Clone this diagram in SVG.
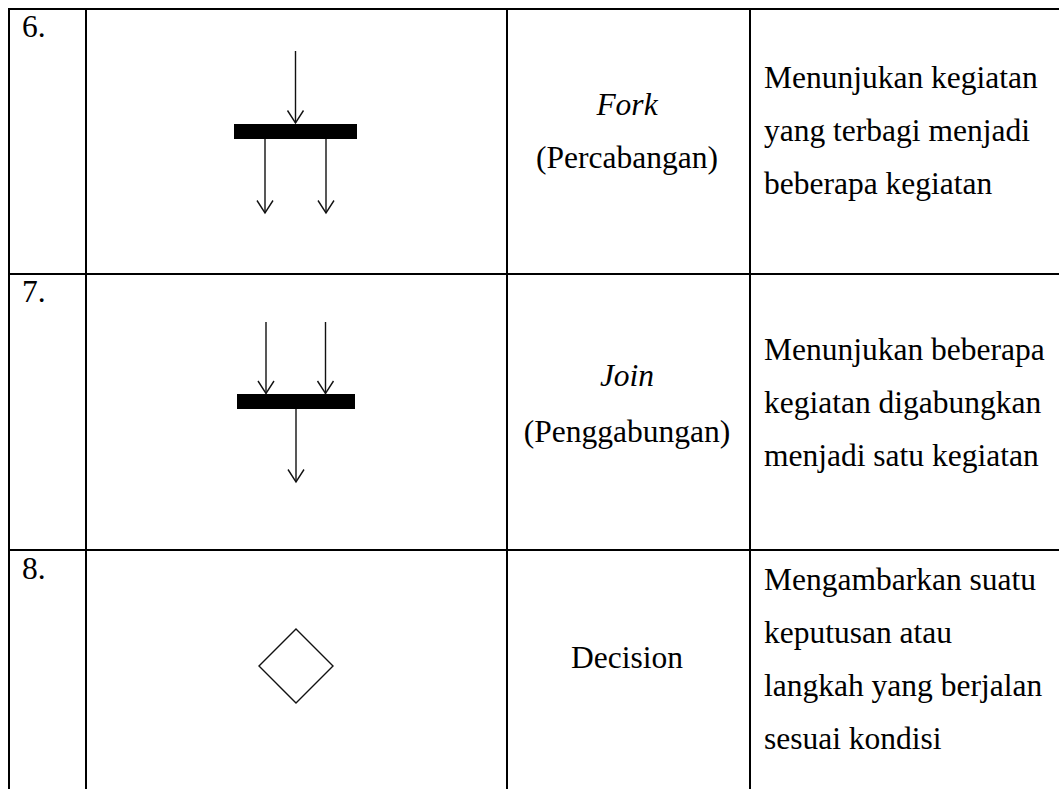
<svg xmlns="http://www.w3.org/2000/svg" width="1059" height="789" viewBox="0 0 1059 789">
<style>
.grid{stroke:#000;stroke-width:2;fill:none}
.t{font-family:"Liberation Serif","Times New Roman",serif;font-size:31.5px;fill:#000}
.c{text-anchor:middle}
.i{font-style:italic}
.ln{stroke:#111;stroke-width:1.4;fill:none;marker-end:url(#ah)}
.bar{fill:#000}
</style>
<defs>
<marker id="ah" markerUnits="userSpaceOnUse" markerWidth="30" markerHeight="30" viewBox="-15 -15 30 30" refX="0" refY="0" orient="auto">
<path d="M-12.5,-8 L0,0 L-12.5,8" fill="none" stroke="#111" stroke-width="1.4"/>
</marker>
</defs>
<rect width="1059" height="789" fill="#fff"/>
<g id="table" class="grid">
<line x1="9" y1="9" x2="1065" y2="9"/>
<line x1="9" y1="274" x2="1065" y2="274"/>
<line x1="9" y1="550" x2="1065" y2="550"/>
<line x1="9" y1="8" x2="9" y2="795"/>
<line x1="86" y1="8" x2="86" y2="795"/>
<line x1="507" y1="8" x2="507" y2="795"/>
<line x1="750" y1="8" x2="750" y2="795"/>
</g>
<g id="row6">
<text class="t" x="22" y="37">6.</text>
<rect id="fork-bar" class="bar" x="234" y="124" width="123" height="15"/>
<text class="t c i" x="627" y="115">Fork</text>
<text class="t c" x="627" y="168">(Percabangan)</text>
<text class="t" x="764" y="88">Menunjukan kegiatan</text>
<text class="t" x="764" y="141">yang terbagi menjadi</text>
<text class="t" x="764" y="194">beberapa kegiatan</text>
</g>
<g id="row7">
<text class="t" x="22" y="302">7.</text>
<rect id="join-bar" class="bar" x="237" y="394" width="118" height="15"/>
<text class="t c i" x="627" y="386">Join</text>
<text class="t c" x="627" y="442">(Penggabungan)</text>
<text class="t" x="764" y="360">Menunjukan beberapa</text>
<text class="t" x="764" y="413">kegiatan digabungkan</text>
<text class="t" x="764" y="466">menjadi satu kegiatan</text>
</g>
<g id="row8">
<text class="t" x="22" y="579">8.</text>
<polygon id="decision" points="296,629 333,666 296,703 259,666" fill="none" stroke="#111" stroke-width="1.4"/>
<text class="t c" x="627" y="668">Decision</text>
<text class="t" x="764" y="590">Mengambarkan suatu</text>
<text class="t" x="764" y="643">keputusan atau</text>
<text class="t" x="764" y="696">langkah yang berjalan</text>
<text class="t" x="764" y="749">sesuai kondisi</text>
</g>
<g id="connectors">
<line class="ln" x1="295.5" y1="51" x2="295.5" y2="123"/>
<line class="ln" x1="265" y1="139" x2="265" y2="213"/>
<line class="ln" x1="326" y1="139" x2="326" y2="213"/>
<line class="ln" x1="266" y1="322" x2="266" y2="393.5"/>
<line class="ln" x1="325.5" y1="322" x2="325.5" y2="393.5"/>
<line class="ln" x1="296" y1="409" x2="296" y2="482"/>
</g>
</svg>
